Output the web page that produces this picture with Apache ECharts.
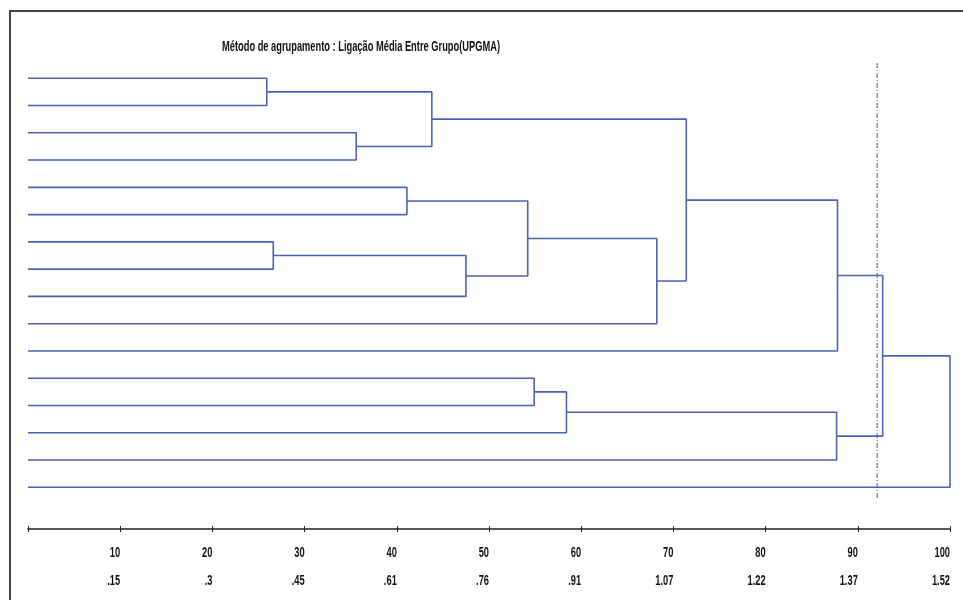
<!DOCTYPE html>
<html>
<head>
<meta charset="utf-8">
<script src="https://cdn.jsdelivr.net/npm/echarts@6/dist/echarts.min.js"></script>
<style>
  html, body { margin: 0; padding: 0; background: #fff; }
  #chart { width: 963px; height: 600px; }
</style>
</head>
<body>
<div id="chart"></div>
<script>
// 16 casos (folhas), de cima para baixo
const leafCount = 16
// junções: nó esquerdo, nó direito, distância reescalonada (0-100)
// nós 0-15 são folhas, 16+ são os grupos na ordem em que aparecem
const mergeLeft = [0, 6, 2, 4, 16, 17, 19, 11, 23, 22, 20, 24, 26, 28, 29]
const mergeRight = [1, 7, 3, 5, 18, 8, 21, 12, 13, 9, 25, 14, 10, 27, 15]
const mergeHeight = [25.9, 26.6, 35.6, 41.1, 43.8, 47.5, 54.2, 54.9, 58.4, 68.2, 71.4, 87.7, 87.8, 92.7, 100]
// linha de corte
const cutValue = 92.1
// rótulos do eixo
const scaleTicks = [10, 20, 30, 40, 50, 60, 70, 80, 90, 100]
const scaleLabels = ['10', '20', '30', '40', '50', '60', '70', '80', '90', '100']
const distLabels = ['.15', '.3', '.45', '.61', '.76', '.91', '1.07', '1.22', '1.37', '1.52']

const title = 'Método de agrupamento : Ligação Média Entre Grupo(UPGMA)'
const lineColor = '#4b63b3'
const font = '"Liberation Sans", Arial, sans-serif'
// fonte estreita: simula Arial Narrow
const narrow = 0.62

// monta os segmentos do dendrograma
let nodeX = []
let nodeY = []
for (let i = 0; i < leafCount; i++) {
  nodeX.push(0)
  nodeY.push(i)
}
let segs = []
mergeLeft.forEach((a, i) => {
  let b = mergeRight[i]
  let h = mergeHeight[i]
  segs.push([nodeX[a], nodeY[a]], [h, nodeY[a]], [h, nodeY[b]], [nodeX[b], nodeY[b]], null)
  nodeX.push(h)
  nodeY.push((nodeY[a] + nodeY[b]) / 2)
})
let treeData = segs.map(p => (p ? p : ['-', '-']))

let graphics = [
  {
    id: 'frame',
    type: 'polyline',
    shape: { points: [[10, 600], [10, 11], [963, 11]] },
    style: { stroke: '#444', lineWidth: 2, fill: null }
  },
  {
    id: 'title',
    type: 'text',
    x: 222,
    y: 47,
    scaleX: narrow,
    style: {
      text: title,
      font: 'bold 15px ' + font,
      fill: '#111',
      textAlign: 'left',
      textVerticalAlign: 'middle'
    }
  }
]

let chart = echarts.init(document.getElementById('chart'))
chart.setOption({
  animation: false,
  graphic: graphics,
  grid: {
    left: 28,
    right: 13,
    top: 63,
    bottom: 71
  },
  xAxis: [
    {
      type: 'value',
      min: 0,
      max: 100,
      interval: 10,
      axisLine: { onZero: false, lineStyle: { color: '#222', width: 1.5 } },
      axisTick: { show: true, length: 3, lineStyle: { color: '#222' } },
      splitLine: { show: false },
      axisLabel: { show: false }
    },
    {
      type: 'value',
      position: 'bottom',
      min: 0,
      max: 100,
      interval: 10,
      axisLine: { show: false, onZero: false },
      axisTick: { show: true, inside: true, length: 3, lineStyle: { color: '#222' } },
      axisLabel: { show: false },
      splitLine: { show: false }
    }
  ],
  yAxis: {
    type: 'value',
    inverse: true,
    min: -0.56,
    max: 16.53,
    show: false
  },
  series: [
    {
      type: 'line',
      data: treeData,
      showSymbol: false,
      connectNulls: false,
      lineStyle: { color: lineColor, width: 1.6 }
    },
    {
      type: 'line',
      data: [[cutValue, -0.56], [cutValue, 15.4]],
      showSymbol: false,
      lineStyle: { color: '#4a5a90', width: 1, type: [5, 2, 1, 2] }
    }
  ]
})

// rótulos do eixo em duas linhas, posicionados pela escala do eixo
let axisY = chart.convertToPixel({ yAxisIndex: 0 }, 16.53)
scaleTicks.forEach((v, i) => {
  let px = chart.convertToPixel({ xAxisIndex: 0 }, v)
  ;[scaleLabels[i], distLabels[i]].forEach((t, row) => {
    graphics.push({
      id: 'lbl' + i + '_' + row,
      type: 'text',
      x: px,
      y: axisY + 24 + row * 28,
      scaleX: narrow,
      style: {
        text: t,
        font: 'bold 15px ' + font,
        fill: '#111',
        textAlign: 'right',
        textVerticalAlign: 'middle'
      }
    })
  })
})
chart.setOption({ graphic: graphics })
</script>
</body>
</html>
